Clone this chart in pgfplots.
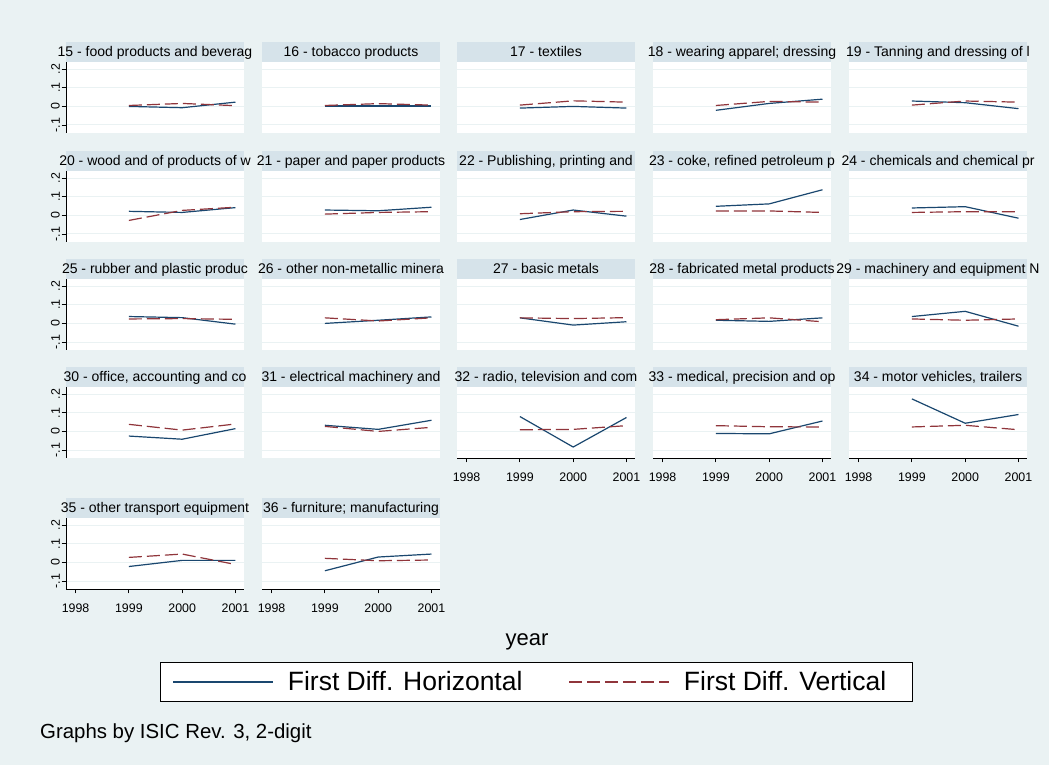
\documentclass[border=0pt]{standalone}
\usepackage{pgfplots}
\pgfplotsset{compat=1.18}
\usepackage{fontspec}
\setmainfont{Liberation Sans}
\definecolor{bgc}{RGB}{234,242,243}
\definecolor{stripc}{RGB}{214,227,234}
\definecolor{gridc}{RGB}{234,242,243}
\definecolor{navyc}{RGB}{26,71,111}
\definecolor{maroonc}{RGB}{144,53,59}
\pgfplotsset{
  panel/.style={
    scale only axis, width=178pt, height=71pt,
    xmin=1997.82, xmax=2001.16, ymin=-0.143, ymax=0.239,
    anchor=north west, clip=false,
    axis background/.style={fill=white},
    separate axis lines,
    axis x line*=bottom, axis y line*=left,
    x axis line style={draw=none,-}, y axis line style={draw=none,-},
    xtick={1998,1999,2000,2001}, ytick={-0.1,0,0.1,0.2},
    xticklabels={}, yticklabels={},
    major tick length=4.5pt, tick align=outside,
    xtick style={draw=none}, ytick style={draw=none},
    ymajorgrids, grid style={gridc, line width=1pt},
    ticklabel style={font=\fontsize{12.4}{14}\selectfont},
    yticklabel style={rotate=90, anchor=south, inner sep=1.5pt},
    xticklabel style={inner sep=2pt, yshift=-8pt},
  },
  leftax/.style={
    y axis line style={draw=black, line width=0.8pt},
    ytick style={draw=black, line width=0.8pt},
    yticklabels={-.1,0,.1,.2},
  },
  botax/.style={
    x axis line style={draw=black, line width=0.8pt},
    xtick style={draw=black, line width=0.8pt},
    xticklabels={1998,1999,2000,2001},
  },
}
\newcommand\panel[6]{%
\begin{axis}[panel, at={(#1pt,#2pt)}, #6]
\addplot[navyc, line width=1.2pt] coordinates {#4};
\addplot[maroonc, line width=1.2pt, dash pattern=on 13pt off 5pt] coordinates {#5};
\fill[stripc] (rel axis cs:0,1) rectangle ([yshift=19.5pt]rel axis cs:1,1);
\node[font=\fontsize{14}{16}\selectfont, anchor=base, inner sep=0pt] at ([yshift=5.5pt]rel axis cs:0.5,1) {#3};
\end{axis}}
\begin{document}
\begin{tikzpicture}[x=1pt,y=1pt]
\fill[bgc] (0,0) rectangle (1049,765);
\useasboundingbox (0,0) rectangle (1049,765);
% row 1
\panel{66}{703}{15 - food products and beverag}{(1999,0.000)(2000,-0.007)(2001,0.023)}{(1999,0.005)(2000,0.016)(2001,0.004)}{leftax}
\panel{262}{703}{16 - tobacco products}{(1999,0.002)(2000,0.002)(2001,0.002)}{(1999,0.005)(2000,0.015)(2001,0.007)}{}
\panel{457}{703}{17 - textiles}{(1999,-0.009)(2000,0.000)(2001,-0.009)}{(1999,0.007)(2000,0.030)(2001,0.023)}{}
\panel{653}{703}{18 - wearing apparel; dressing}{(1999,-0.021)(2000,0.016)(2001,0.039)}{(1999,0.005)(2000,0.027)(2001,0.023)}{}
\panel{849}{703}{19 - Tanning and dressing of l}{(1999,0.029)(2000,0.020)(2001,-0.012)}{(1999,0.007)(2000,0.029)(2001,0.023)}{}
% row 2
\panel{66}{594}{20 - wood and of products of w}{(1999,0.022)(2000,0.016)(2001,0.042)}{(1999,-0.027)(2000,0.027)(2001,0.044)}{leftax}
\panel{262}{594}{21 - paper and paper products}{(1999,0.029)(2000,0.025)(2001,0.044)}{(1999,0.007)(2000,0.016)(2001,0.020)}{}
\panel{457}{594}{22 - Publishing, printing and}{(1999,-0.022)(2000,0.029)(2001,-0.004)}{(1999,0.009)(2000,0.020)(2001,0.022)}{}
\panel{653}{594}{23 - coke, refined petroleum p}{(1999,0.049)(2000,0.062)(2001,0.138)}{(1999,0.024)(2000,0.024)(2001,0.016)}{}
\panel{849}{594}{24 - chemicals and chemical pr}{(1999,0.040)(2000,0.047)(2001,-0.015)}{(1999,0.016)(2000,0.020)(2001,0.020)}{}
% row 3
\panel{66}{486}{25 - rubber and plastic produc}{(1999,0.037)(2000,0.031)(2001,-0.004)}{(1999,0.024)(2000,0.026)(2001,0.022)}{leftax}
\panel{262}{486}{26 - other non-metallic minera}{(1999,0.000)(2000,0.017)(2001,0.035)}{(1999,0.030)(2000,0.013)(2001,0.030)}{}
\panel{457}{486}{27 - basic metals}{(1999,0.030)(2000,-0.009)(2001,0.009)}{(1999,0.030)(2000,0.026)(2001,0.031)}{}
\panel{653}{486}{28 - fabricated metal products}{(1999,0.017)(2000,0.011)(2001,0.030)}{(1999,0.020)(2000,0.030)(2001,0.009)}{}
\panel{849}{486}{29 - machinery and equipment N}{(1999,0.037)(2000,0.065)(2001,-0.015)}{(1999,0.024)(2000,0.017)(2001,0.024)}{}
% row 4
\panel{66}{378}{30 - office, accounting and co}{(1999,-0.025)(2000,-0.042)(2001,0.015)}{(1999,0.038)(2000,0.007)(2001,0.040)}{leftax}
\panel{262}{378}{31 - electrical machinery and}{(1999,0.033)(2000,0.011)(2001,0.060)}{(1999,0.027)(2000,0.000)(2001,0.022)}{}
\panel{457}{378}{32 - radio, television and com}{(1999,0.080)(2000,-0.084)(2001,0.075)}{(1999,0.009)(2000,0.011)(2001,0.031)}{botax}
\panel{653}{378}{33 - medical, precision and op}{(1999,-0.011)(2000,-0.013)(2001,0.056)}{(1999,0.031)(2000,0.025)(2001,0.024)}{botax}
\panel{849}{378}{34 - motor vehicles, trailers}{(1999,0.175)(2000,0.044)(2001,0.091)}{(1999,0.024)(2000,0.033)(2001,0.009)}{botax}
% row 5
\panel{66}{247}{35 - other transport equipment}{(1999,-0.022)(2000,0.011)(2001,0.011)}{(1999,0.027)(2000,0.045)(2001,-0.011)}{leftax,botax}
\panel{262}{247}{36 - furniture; manufacturing}{(1999,-0.045)(2000,0.029)(2001,0.045)}{(1999,0.022)(2000,0.009)(2001,0.013)}{botax}
% legend
\begin{axis}[at={(0,0)}, anchor=south west, scale only axis, width=1049pt, height=765pt,
  hide axis, xmin=0, xmax=1, ymin=0, ymax=1,
  legend columns=2,
  legend style={at={(0.1525,0.1085)}, anchor=west, draw=black, line width=0.8pt, fill=white,
    font=\fontsize{26.5}{30}\selectfont, inner xsep=12pt, inner ysep=5pt,
    nodes={inner xsep=14pt, inner ysep=4pt},
    /tikz/every even column/.append style={column sep=32pt}},
  legend image code/.code={\draw[#1] (0pt,0pt) -- (100pt,0pt);},
]
\addlegendimage{navyc, line width=1.5pt}
\addlegendentry{First Diff. Horizontal}
\addlegendimage{maroonc, line width=1.5pt, dash pattern=on 13pt off 5pt}
\addlegendentry{First Diff. Vertical}
\end{axis}
\node[font=\fontsize{22}{26}\selectfont, anchor=base] at (527,119) {year};
\node[font=\fontsize{20.4}{24}\selectfont, anchor=base west, inner sep=0pt] at (40,26) {Graphs by ISIC Rev. 3, 2-digit};
\end{tikzpicture}
\end{document}
